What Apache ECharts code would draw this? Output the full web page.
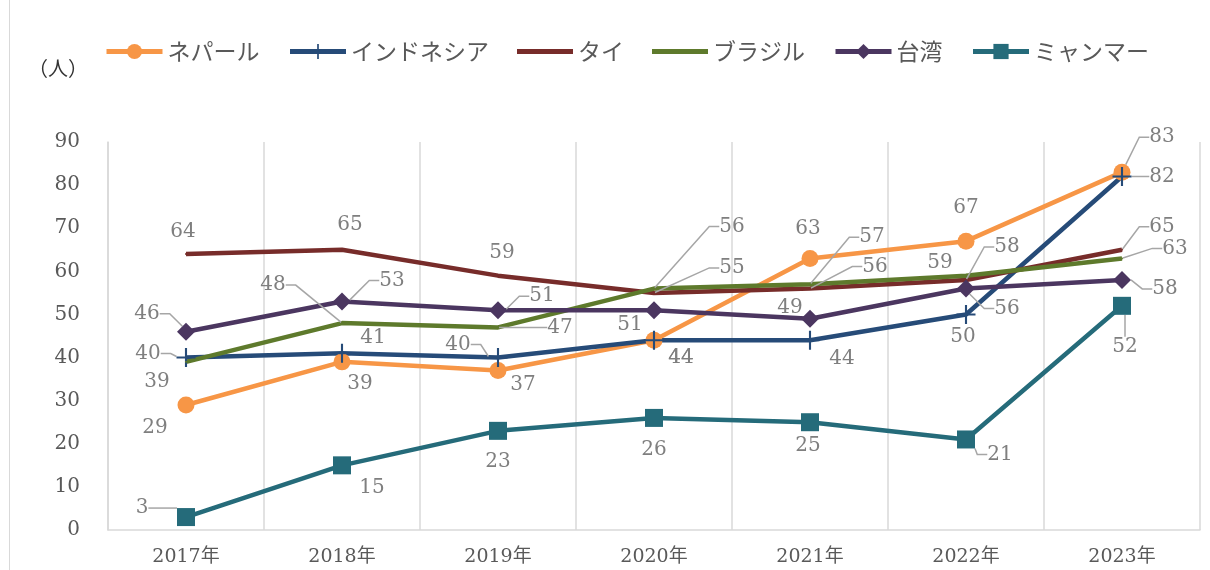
<!DOCTYPE html>
<html>
<head>
    <meta charset="utf-8">
    <title>ECharts</title>
    <script src="https://cdn.jsdelivr.net/npm/echarts@6/dist/echarts.min.js"></script>
</head>
<body style="margin:0">
    <div id="main" style="width:1210px;height:570px;"></div>
    <script>
        var years = ['2017年', '2018年', '2019年', '2020年', '2021年', '2022年', '2023年'];
        var nepal = [29, 39, 37, 44, 63, 67, 83];
        var indonesia = [40, 41, 40, 44, 44, 50, 82];
        var thai = [64, 65, 59, 55, 56, 58, 65];
        var brazil = [39, 48, 47, 56, 57, 59, 63];
        var taiwan = [46, 53, 51, 51, 49, 56, 58];
        var myanmar = [3, 15, 23, 26, 25, 21, 52];

        // label offset from each point [dx, dy] and whether it gets a leader line
        var labelOffsets = [
            [[-31, 23], [18, 22], [25, 14], [27, 17], [-2, -30], [0, -33], [40, -35]],
            [[-38, -4], [31, -15], [-40, -13], [27, 17], [32, 18], [-3, 22], [40, 0]],
            [[-3, -22], [8, -25], [4, -23], [78, -25], [65, -22], [41, -33], [40, -23]],
            [[-29, 20], [-69, -38], [62, 0], [78, -62], [62, -47], [-26, -13], [53, -10]],
            [[-39, -18], [50, -21], [44, -14], [-24, 15], [-20, -11], [41, 20], [43, 9]],
            [[-44, -9], [30, 22], [0, 31], [0, 32], [-2, 24], [34, 15], [3, 41]]
        ];
        var leaders = [
            [0, 0, 0, 0, 0, 0, 1],
            [1, 0, 1, 0, 0, 0, 1],
            [0, 0, 0, 1, 1, 1, 1],
            [0, 1, 1, 1, 1, 0, 1],
            [1, 1, 1, 0, 0, 1, 1],
            [1, 0, 0, 0, 0, 1, 1]
        ];

        var plusPath = 'path://M8,0H10V8H18V10H10V18H8V10H0V8H8Z';
        var barPath = 'path://M0,0H56V5H0Z';
        var serif = "'DejaVu Serif', 'Noto Sans CJK JP', serif";

        function makeData(values, s) {
            return values.map(function (v, i) {
                return {
                    value: v,
                    labelLine: { show: !!leaders[s][i] }
                };
            });
        }

        function makeSeries(name, values, s, color, symbol, size) {
            return {
                name: name,
                type: 'line',
                data: makeData(values, s),
                symbol: symbol,
                symbolSize: size,
                showAllSymbol: true,
                lineStyle: { color: color, width: 4.5 },
                itemStyle: { color: color },
                label: {
                    show: true,
                    position: 'inside',
                    color: '#7f7f7f',
                    fontFamily: serif,
                    fontSize: 20
                },
                labelLine: {
                    length2: 10,
                    lineStyle: { color: '#a6a6a6', width: 1.5 }
                },
                labelLayout: function (params) {
                    var o = labelOffsets[s][params.dataIndex];
                    return { dx: o[0], dy: o[1] };
                }
            };
        }

        var myChart = echarts.init(document.getElementById('main'));

        var option = {
            animation: false,
            backgroundColor: '#fff',
            graphic: [{
                type: 'line',
                shape: { x1: 9.5, y1: 0, x2: 9.5, y2: 570 },
                style: { stroke: '#d9d9d9', lineWidth: 1 }
            }],
            legend: {
                left: 99,
                top: 35,
                itemWidth: 56,
                itemHeight: 19,
                itemGap: 28,
                lineStyle: { width: 5 },
                textStyle: {
                    color: '#595959',
                    fontFamily: "'Noto Sans CJK JP'",
                    fontSize: 23
                },
                data: [
                    { name: 'ネパール' },
                    { name: 'インドネシア' },
                    { name: 'タイ', icon: barPath },
                    { name: 'ブラジル', icon: barPath },
                    { name: '台湾' },
                    { name: 'ミャンマー' }
                ]
            },
            grid: { left: 108, right: 10, top: 142, bottom: 40 },
            xAxis: {
                type: 'category',
                data: years,
                boundaryGap: true,
                axisLine: { lineStyle: { color: '#d9d9d9', width: 1.5 } },
                axisTick: { show: false },
                splitLine: { show: true, lineStyle: { color: '#d9d9d9', width: 1.5 } },
                axisLabel: {
                    color: '#595959',
                    fontFamily: serif,
                    fontSize: 19,
                    margin: 18
                }
            },
            yAxis: {
                type: 'value',
                min: 0,
                max: 90,
                interval: 10,
                name: '（人）',
                nameLocation: 'end',
                nameGap: 64,
                nameTextStyle: {
                    color: '#333',
                    fontFamily: "'Noto Sans CJK JP'",
                    fontSize: 20,
                    align: 'right',
                    padding: [0, 20, 0, 0]
                },
                axisLine: { show: true, lineStyle: { color: '#d9d9d9', width: 1.5 } },
                axisTick: { show: false },
                splitLine: { show: false },
                axisLabel: {
                    color: '#595959',
                    fontFamily: serif,
                    fontSize: 20,
                    margin: 28
                }
            },
            series: [
                makeSeries('ネパール', nepal, 0, '#f79646', 'circle', 17),
                makeSeries('インドネシア', indonesia, 1, '#264b78', plusPath, 19),
                makeSeries('タイ', thai, 2, '#772c2a', 'circle', 2),
                makeSeries('ブラジル', brazil, 3, '#5e7a2c', 'circle', 2),
                makeSeries('台湾', taiwan, 4, '#4b3660', 'diamond', 18),
                makeSeries('ミャンマー', myanmar, 5, '#256b7a', 'rect', 18)
            ]
        };

        myChart.setOption(option);
    </script>
</body>
</html>
